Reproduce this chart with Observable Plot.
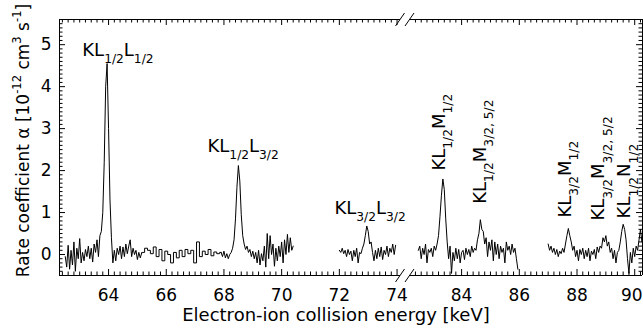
<!DOCTYPE html>
<html><head><meta charset="utf-8">
<script src="https://cdn.jsdelivr.net/npm/d3@7"></script>
<script src="https://cdn.jsdelivr.net/npm/@observablehq/plot@0.6"></script>
<style>body{margin:0;background:#fff}</style>
</head><body>
<script>
// ---------- data ----------
const gridStep = 0.05;          // keV sampling of the dense segments
const segAStart = 62.50;
const segAValues = [-0.05,-0.30,0.22,-0.35,0.10,-0.25,0.30,-0.40,0.15,-0.10,
  0.38,-0.20,0.05,-0.15,0.12,-0.05,0.20,-0.10,0.15,-0.18,
  0.25,0.05,0.35,-0.05,0.45,0.55,1.00,2.20,4.00,4.55,
  3.00,1.30,0.40,-0.20,0.10,-0.15,0.15,0.00,0.20,-0.10,
  0.18,-0.05,0.25,0.02,0.20,0.35,-0.05,0.15,0.00,0.10,
  -0.12,0.05,-0.08,0.04];
const segBStart = 65.20, segBStep = 0.1;   // coarse, histogram-like part
const segBValues = [0.05,0.15,0.10,0.02,0.18,-0.05,0.12,-0.15,0.08,0.00,
  -0.20,0.05,-0.08,0.10,-0.05,0.12,0.02,0.10,-0.20,0.30,
  -0.05,0.08,0.00,0.12,-0.03,0.06,0.02];
const segCStart = 67.90;
const segCValues = [0.05,-0.05,0.08,-0.08,0.02,-0.10,0.00,0.05,0.15,0.35,
  0.85,1.60,2.12,1.75,0.95,0.45,0.25,0.12,0.20,0.05,
  0.12,-0.05,0.08,-0.10,0.05,-0.20,0.10,-0.25,0.02,-0.15,
  0.20,-0.30,0.50,-0.10,0.45,0.00,0.25,-0.28,0.15,-0.15,
  0.20,-0.05,0.30,-0.20,0.35,0.00,0.48,0.05,0.40,0.10,0.20];
const segDStart = 72.00;
const segDValues = [0.10,0.05,0.15,0.02,0.10,-0.05,0.12,0.00,0.08,-0.15,
  0.10,-0.05,0.15,-0.20,0.05,0.02,0.15,0.25,0.45,0.68,
  0.55,0.25,0.30,0.05,-0.15,0.10,-0.10,0.15,-0.05,0.18,
  -0.12,0.10,0.00,0.20,-0.05,0.15,0.05,0.25,0.00,0.22];
const segEStart = 82.50;
const segEValues = [0.10,0.20,-0.10,0.15,0.00,0.25,-0.20,0.12,0.05,0.15,
  -0.05,0.20,0.10,0.25,0.45,0.90,1.40,1.80,1.55,0.85,
  0.30,-0.10,0.20,-0.45,0.05,-0.15,0.15,-0.10,0.12,-0.20,
  0.05,0.10,-0.12,0.15,0.00,0.12,-0.05,0.20,0.05,0.15,
  0.10,0.35,0.50,0.83,0.60,0.55,0.25,0.40,-0.05,0.30,
  0.10,0.35,-0.15,0.30,0.00,0.25,-0.10,0.20,0.05,0.15,
  -0.20,0.30,0.10,0.20,0.00,0.25,0.05,0.15,-0.10,-0.35];
const segFStart = 87.00;
const segFValues = [0.25,0.10,0.20,0.05,0.15,0.00,0.12,-0.05,0.08,0.02,
  0.15,0.05,0.25,0.45,0.62,0.45,0.30,0.10,0.20,-0.05,
  0.10,-0.15,0.12,0.00,0.15,-0.10,0.10,-0.05,0.15,-0.15,
  0.08,0.00,0.12,-0.10,0.18,0.05,0.20,0.15,0.40,0.30,
  0.45,0.20,0.30,0.05,0.15,-0.10,0.10,-0.20,0.05,0.10,
  0.30,0.55,0.72,0.60,0.35,-0.10,-0.45,0.05,-0.20,0.15,
  -0.05,0.20,0.10,0.35,0.60,0.30];

const xTickValues = [64, 66, 68, 70, 72, 74, 84, 86, 88, 90];
const yTickValues = [0, 1, 2, 3, 4, 5];

const peakLabels = ["KL_{1/2}L_{1/2}", "KL_{1/2}L_{3/2}", "KL_{3/2}L_{3/2}",
  "KL_{1/2}M_{1/2}", "KL_{1/2}M_{3/2, 5/2}", "KL_{3/2}M_{1/2}",
  "KL_{3/2}M_{3/2, 5/2}", "KL_{1/2}N_{1/2}"];
const peakLabelX = [63.09, 67.43, 71.83, 83.41, 84.83, 87.78, 88.95, 89.85];
const peakLabelY = [4.74, 2.45, 0.96, 2.00, 1.21, 0.88, 0.81, 0.86];
const peakLabelRotate = [0, 0, 0, -90, -90, -90, -90, -90];

const xTitle = "Electron-ion collision energy [keV]";
const yTitle = "Rate coefficient α [10^{-12} cm^{3} s^{-1}]";

// ---------- broken x axis: 74.12 keV | gap | 82.23 keV ----------
const W = 643, H = 331, MT = 19, MB = 56, ML = 59, MR = 1;
const LEFT_MIN = 62.30, LEFT_MAX = 74.12, RIGHT_MIN = 82.23, RIGHT_MAX = 90.27;
const GAP = 0.347;                                   // width of the break (~10px)
const SHIFT = RIGHT_MIN - (LEFT_MAX + GAP);
const u = x => (x <= LEFT_MAX + 1e-9 ? x : x - SHIFT); // energy -> compressed axis coordinate
const U_DOMAIN = [u(LEFT_MIN), u(RIGHT_MAX)];
const Y_DOMAIN = [-0.5, 5.6];
const pxPerY = (H - MT - MB) / (Y_DOMAIN[1] - Y_DOMAIN[0]);
const pxPerX = (W - ML - MR) / (U_DOMAIN[1] - U_DOMAIN[0]);
const pxToU = px => U_DOMAIN[0] + (px - ML) / pxPerX;

const mk = (x0, step, vals) => vals.map((v, i) => ({x: +(x0 + i * step).toFixed(3), y: v}));
const A = mk(segAStart, gridStep, segAValues);
const B0 = mk(segBStart, segBStep, segBValues);
const C = mk(segCStart, gridStep, segCValues);
const B = [A[A.length - 1], ...B0, C[0]];
const D = mk(segDStart, gridStep, segDValues);
const E = mk(segEStart, gridStep, segEValues);
const F = mk(segFStart, gridStep, segFValues);

const r1 = v => Math.round(v * 10) / 10;
const minorX = [...d3.range(62.4, 74.05, 0.2), ...d3.range(82.4, 90.25, 0.2)].map(r1)
  .filter(v => Math.abs(v / 2 - Math.round(v / 2)) > 0.01);
const minorY = d3.range(-0.5, 5.61, 0.1).map(r1).filter(v => Math.abs(v - Math.round(v)) > 0.01);

const yb = Y_DOMAIN[0], yt = Y_DOMAIN[1], ul = U_DOMAIN[0], ur = U_DOMAIN[1];
const MAJ = 6, MIN = 3.5;
const axisSegs = [[u(LEFT_MIN), u(LEFT_MAX)], [u(RIGHT_MIN), u(RIGHT_MAX)]];
const breakPx = [399.5, 409];
const slashes = [];
for (const base of [yb, yt]) for (const c of breakPx) {
  slashes.push({x1: pxToU(c - 4.5), y1: base - 6.5 / pxPerY, x2: pxToU(c + 4.5), y2: base + 6.5 / pxPerY});
}

const lineOpts = {x: d => u(d.x), y: "y", stroke: "black", strokeWidth: 1};
const lastTick = xTickValues[xTickValues.length - 1];
const tickLabelOpts = {x: d => u(d), y: yb, dy: 25, text: d => String(d), lineAnchor: "bottom", fontSize: 17};

const chart = Plot.plot({
  width: W, height: H,
  marginTop: MT, marginBottom: MB, marginLeft: ML, marginRight: MR,
  style: {background: "white", fontFamily: "DejaVu Sans", overflow: "visible"},
  x: {domain: U_DOMAIN, axis: null},
  y: {domain: Y_DOMAIN, axis: null},
  marks: [
    // frame (broken at the axis gap)
    Plot.ruleY(axisSegs, {y: yb, x1: d => d[0], x2: d => d[1], stroke: "black"}),
    Plot.ruleY(axisSegs, {y: yt, x1: d => d[0], x2: d => d[1], stroke: "black"}),
    Plot.ruleX([ul, ur], {x: d => d, y1: yb, y2: yt, stroke: "black"}),
    Plot.link(slashes, {x1: "x1", y1: "y1", x2: "x2", y2: "y2", stroke: "black"}),
    // x ticks (bottom and top, inward)
    Plot.ruleX(xTickValues, {x: d => u(d), y1: yb, y2: yb + MAJ / pxPerY, stroke: "black"}),
    Plot.ruleX(xTickValues, {x: d => u(d), y1: yt, y2: yt - MAJ / pxPerY, stroke: "black"}),
    Plot.ruleX(minorX, {x: d => u(d), y1: yb, y2: yb + MIN / pxPerY, stroke: "black"}),
    Plot.ruleX(minorX, {x: d => u(d), y1: yt, y2: yt - MIN / pxPerY, stroke: "black"}),
    // y ticks (left and right, inward)
    Plot.ruleY(yTickValues, {y: d => d, x1: ul, x2: ul + MAJ / pxPerX, stroke: "black"}),
    Plot.ruleY(yTickValues, {y: d => d, x1: ur, x2: ur - MAJ / pxPerX, stroke: "black"}),
    Plot.ruleY(minorY, {y: d => d, x1: ul, x2: ul + MIN / pxPerX, stroke: "black"}),
    Plot.ruleY(minorY, {y: d => d, x1: ur, x2: ur - MIN / pxPerX, stroke: "black"}),
    // tick labels (the last one nudged inside the canvas, as in the reference)
    Plot.text(xTickValues.filter(d => d !== lastTick), tickLabelOpts),
    Plot.text([lastTick], {...tickLabelOpts, dx: -3}),
    Plot.text(yTickValues, {x: ul, y: d => d, dx: -8, text: d => String(d), textAnchor: "end", lineAnchor: "middle", fontSize: 17}),
    // spectrum
    Plot.line(A, lineOpts),
    Plot.line(B, {...lineOpts, curve: "step"}),
    Plot.line(C, lineOpts),
    Plot.line(D, lineOpts),
    Plot.line(E, lineOpts),
    Plot.line(F, lineOpts),
    // peak labels
    Plot.text(d3.range(peakLabels.length), {
      x: i => u(peakLabelX[i]), y: i => peakLabelY[i], text: i => peakLabels[i],
      rotate: i => peakLabelRotate[i], textAnchor: "start", lineAnchor: "bottom", fontSize: 18
    }),
    // titles
    Plot.text([xTitle], {frameAnchor: "bottom", dx: -15, dy: 45, text: d => d, lineAnchor: "bottom", textAnchor: "middle", fontSize: 18}),
    Plot.text([yTitle], {frameAnchor: "left", rotate: -90, dx: -31, dy: -7, text: d => d, lineAnchor: "bottom", textAnchor: "middle", fontSize: 17})
  ]
});
document.body.appendChild(chart);

// rich text: _{..} subscripts, ^{..} superscripts
const NS = "http://www.w3.org/2000/svg";
chart.querySelectorAll("text").forEach(t => {
  const s = t.textContent;
  if (!/[_^]\{/.test(s)) return;
  const fs = parseFloat(getComputedStyle(t).fontSize) || 18;
  while (t.firstChild) t.removeChild(t.firstChild);
  const re = /([_^])\{([^}]*)\}|([^_^]+)/g;
  let m, shift = 0;
  while ((m = re.exec(s))) {
    const ts = document.createElementNS(NS, "tspan");
    let target = 0, txt, size = null;
    if (m[1]) { target = m[1] === "_" ? 0.4 * fs : -0.42 * fs; txt = m[2]; size = 0.68 * fs; }
    else { txt = m[3]; }
    if (target !== shift) ts.setAttribute("dy", (target - shift).toFixed(2));
    shift = target;
    if (size) ts.setAttribute("font-size", size.toFixed(2));
    ts.textContent = txt;
    t.appendChild(ts);
  }
});
</script>
</body></html>
